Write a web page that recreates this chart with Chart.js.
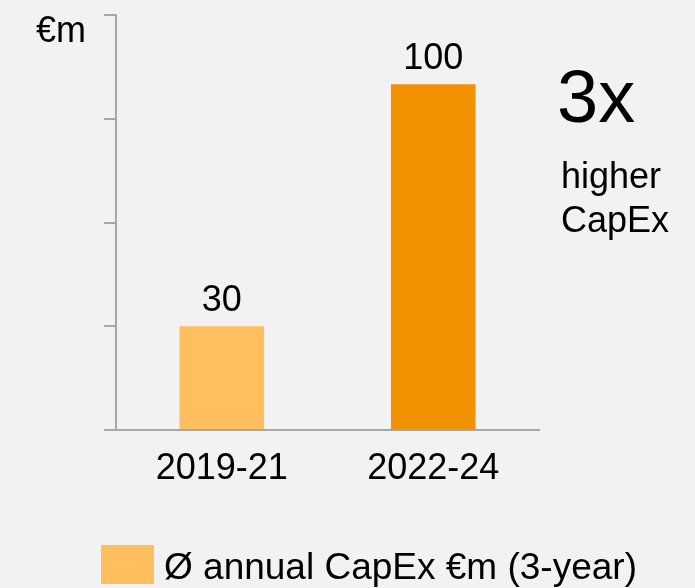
<!DOCTYPE html>
<html>
<head>
<meta charset="utf-8">
<script src="https://cdn.jsdelivr.net/npm/chart.js@4.4.1/dist/chart.umd.min.js"></script>
<style>
  html, body { margin: 0; padding: 0; background: #f2f2f2; }
  #wrap { width: 695px; height: 588px; }
</style>
</head>
<body>
<div id="wrap"><canvas id="capexChart" width="695" height="588"></canvas></div>
<script>
// data
const periods = ['2019-21', '2022-24'];
const capex = [30, 100];
const barColors = ['#ffbf5f', '#f39200'];
const seriesLabel = 'Ø annual CapEx €m (3-year)';
const unitLabel = '€m';
const ratioText = '3x';
const ratioNote = ['higher', 'CapEx'];

const FONT = '"Liberation Sans", Arial, sans-serif';
const AXIS = '#a6a6a6';

// labels, side note and legend drawn on top
const extras = {
    id: 'extras',
    afterDraw(chart) {
        const ctx = chart.ctx;
        const meta = chart.getDatasetMeta(0);
        ctx.save();
        ctx.fillStyle = '#000';
        ctx.font = '36px ' + FONT;
        ctx.textAlign = 'center';
        ctx.textBaseline = 'alphabetic';
        meta.data.forEach((bar, i) => {
            ctx.fillText(String(capex[i]), bar.x, bar.y - 15);
        });

        ctx.textAlign = 'right';
        ctx.fillText(unitLabel, 86, 42);

        ctx.textAlign = 'left';
        ctx.font = '74px ' + FONT;
        ctx.fillText(ratioText, 557, 122);
        ctx.font = '36px ' + FONT;
        ctx.fillText(ratioNote[0], 561, 188);
        ctx.fillText(ratioNote[1], 561, 232);

        // legend
        ctx.fillStyle = barColors[0];
        ctx.fillRect(101, 545, 53, 39);
        ctx.fillStyle = '#000';
        ctx.font = '37px ' + FONT;
        ctx.fillText(seriesLabel, 164, 579);
        ctx.restore();
    }
};

new Chart(document.getElementById('capexChart'), {
    type: 'bar',
    data: {
        labels: periods,
        datasets: [{
            label: seriesLabel,
            data: capex,
            backgroundColor: barColors,
            borderWidth: 0,
            barPercentage: 0.4,
            categoryPercentage: 1
        }]
    },
    options: {
        responsive: false,
        animation: false,
        layout: { padding: { left: 104, top: 15, right: 156, bottom: 98 } },
        plugins: {
            legend: { display: false },
            tooltip: { enabled: false }
        },
        scales: {
            x: {
                grid: { display: false },
                border: { color: AXIS, width: 2 },
                ticks: { color: '#000', font: { family: FONT, size: 36 }, padding: 9 },
                afterFit(scale) { scale.height = 60; }
            },
            y: {
                min: 0,
                max: 120,
                ticks: { stepSize: 30, display: false },
                grid: { drawOnChartArea: false, drawTicks: true, tickLength: 12, color: AXIS, lineWidth: 2 },
                border: { color: AXIS, width: 2 }
            }
        }
    },
    plugins: [extras]
});
</script>
</body>
</html>
